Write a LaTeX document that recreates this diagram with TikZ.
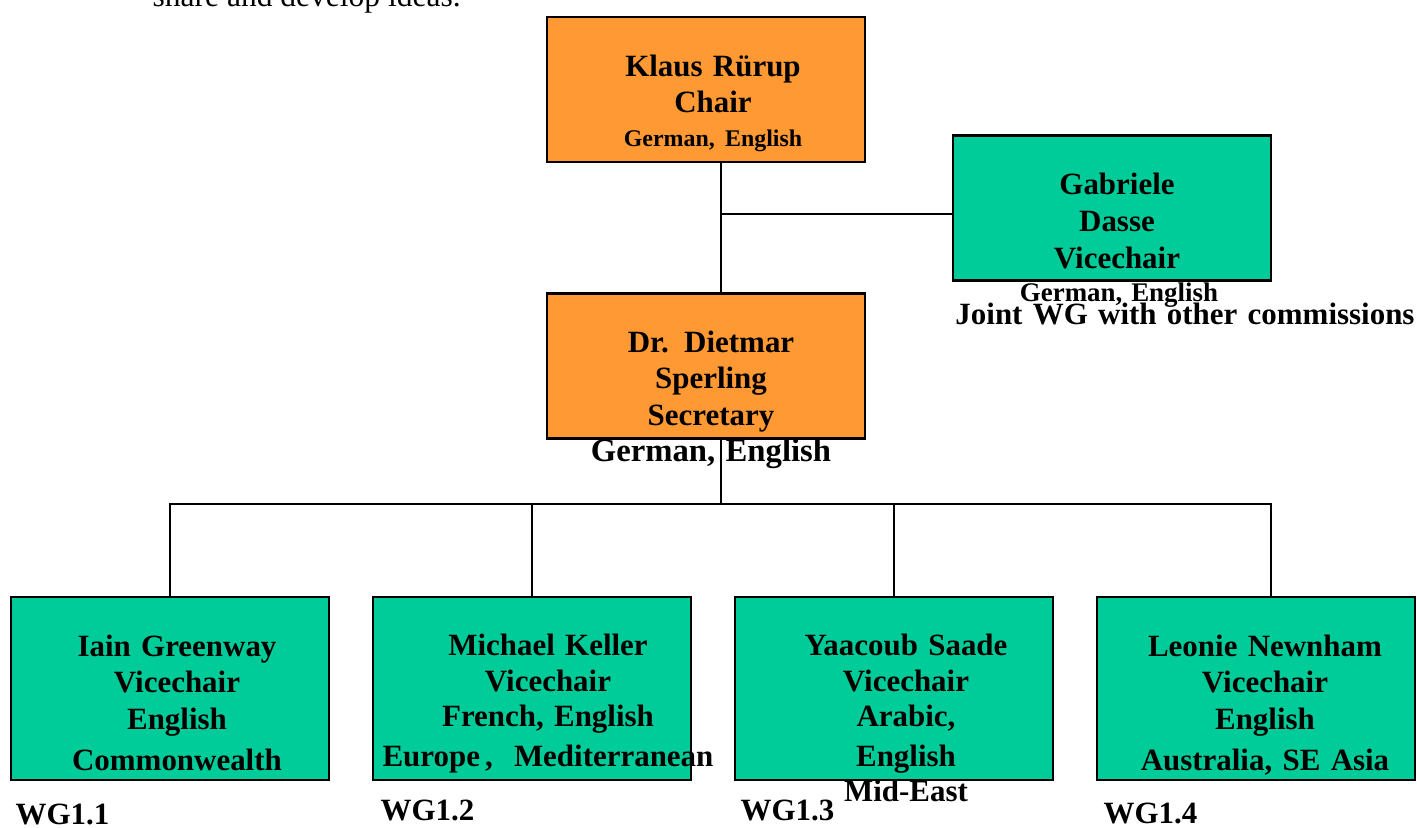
\documentclass[tikz,border=0pt]{standalone}
\usepackage{fontspec}
\setmainfont{Liberation Serif}
\definecolor{orangeCL}{HTML}{FF9933}
\definecolor{vertCL}{HTML}{00CC99}

\begin{document}
\begin{tikzpicture}[x=0.01cm,y=-0.01cm]
  \tikzstyle{chef}=[draw,line width=0.7pt,fill=orangeCL,minimum width=3.18cm,minimum height=1.45cm,inner sep=0pt]
  \tikzstyle{vice}=[chef,fill=vertCL]
  \tikzstyle{nom}=[font=\fontsize{8.8}{10.2}\selectfont\bfseries,text width=4cm,align=center,anchor=base,inner sep=0pt]
  \tikzstyle{lien}=[line width=0.5pt]
  \useasboundingbox (0,0) rectangle (1417,828);
  \clip (0,0) rectangle (1417,828);
  \node[anchor=base west,inner sep=0pt,font=\fontsize{8.96}{10}\selectfont] (intro) at (152,7) {share and develop ideas.};
  % boites
  \node[chef] (chair) at (706,89.5) {};
  \node[vice] (gab) at (1112,208) {};
  \node[chef] (sec) at (706,366) {};
  \node[vice,minimum height=1.83cm] (wg1) at (170,688.5) {};
  \node[vice,minimum height=1.83cm] (wg2) at (532,688.5) {};
  \node[vice,minimum height=1.83cm] (wg3) at (894,688.5) {};
  \node[vice,minimum height=1.83cm] (wg4) at (1256,688.5) {};
  % liens
  \coordinate (axe) at (721,214);
  \coordinate (bus) at (721,504);
  \coordinate (d4) at (1271,597);
  \draw[lien] (chair.south -| axe) -- (sec.north -| axe);
  \draw[lien] (axe) -- (axe -| gab.west);
  \draw[lien] (sec.south -| bus) -- (bus);
  \draw[lien] (wg1.north) |- (bus);
  \draw[lien] (wg2.north) |- (bus);
  \draw[lien] (wg3.north) |- (bus);
  \draw[lien] (d4) |- (bus);
  % textes
  \node[nom] (tchair) at (713,77) {Klaus Rürup\\Chair\\[-0.5pt]{\fontsize{6.8}{8}\selectfont German, English}};
  \node[nom] (tgab) at (1117,195) {Gabriele\\[0.3pt]Dasse\\[0.3pt]Vicechair};
  \node[nom,font=\fontsize{7.65}{9}\selectfont\bfseries] (lgab) at (1119,302) {German, English};
  \node[nom,text width=5cm] (joint) at (1185,325) {Joint WG with other commissions};
  \node[nom] (tsec) at (711,353) {Dr. Dietmar\\Sperling\\[0.3pt]Secretary\\{\fontsize{9.3}{10}\selectfont German, English}};
  \node[nom] (tw1) at (177,657) {Iain Greenway\\Vicechair\\[0.3pt]English\\[1.4pt]Commonwealth};
  \node[nom] (tw2) at (548,656) {Michael Keller\\Vicechair\\[-0.3pt]French, English\\[1pt]Europe\,,\hspace{6pt}Mediterranean};
  \node[nom] (tw3) at (906,656) {Yaacoub Saade\\Vicechair\\[-0.3pt]Arabic,\\[1pt]English\\Mid-East};
  \node[nom] (tw4) at (1265,657) {Leonie Newnham\\Vicechair\\[0.3pt]English\\[1.4pt]Australia, SE Asia};
  \node[nom,anchor=base west,text width=] (w1) at (15,825) {WG1.1};
  \node[nom,anchor=base west,text width=] (w2) at (380,821) {WG1.2};
  \node[nom,anchor=base west,text width=] (w3) at (740,821) {WG1.3};
  \node[nom,anchor=base west,text width=] (w4) at (1103,824) {WG1.4};
\end{tikzpicture}
\end{document}
